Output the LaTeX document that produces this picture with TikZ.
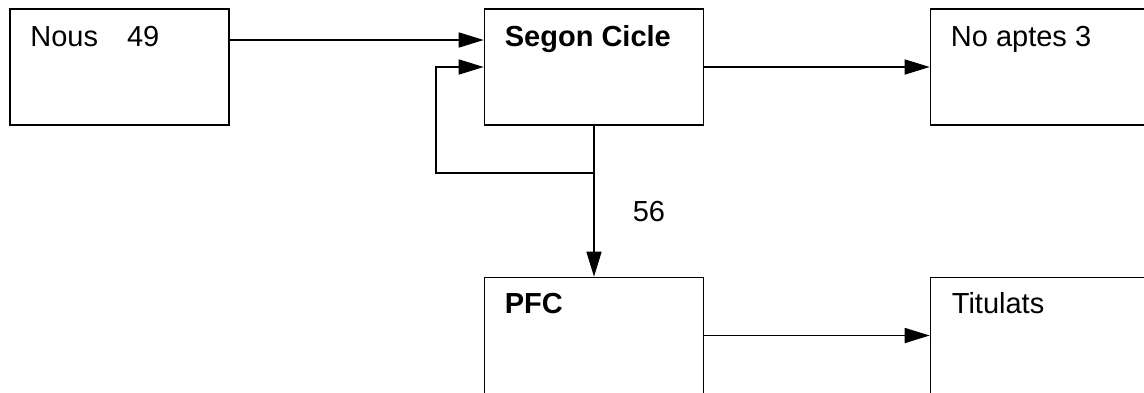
\documentclass[tikz,border=0pt]{standalone}
\usepackage{fontspec}
\setmainfont{Liberation Sans}
\usetikzlibrary{arrows.meta}
\begin{document}
\begin{tikzpicture}[x=1pt,y=-1pt,
        box/.style={draw,line width=1.6pt,minimum width=219pt,minimum height=116pt,inner sep=0},
        txt/.style={anchor=base west,inner sep=0,font=\fontsize{29}{35}\selectfont},
        flow/.style={line width=1.6pt,-{Triangle[length=25pt,width=15pt]}}]
        \useasboundingbox (0,0) rectangle (1144,392);
        %boxes
        \node[box] (nous) at (119.5,67) {};
        \node[box] (segon) at (594,67) {};
        \node[box] (noaptes) at (1040,67) {};
        \node[box] (pfc) at (594,335.5) {};
        \node[box] (titulats) at (1040,335.5) {};
        % texts
        \node[txt] at ([shift={(21,38)}]nous.north west) {Nous\quad 49};
        \node[txt] at ([shift={(21,38)}]segon.north west) {\bfseries Segon Cicle};
        \node[txt] at ([shift={(21,38)}]noaptes.north west) {No aptes 3};
        \node[txt] at ([shift={(21,37)}]pfc.north west) {\bfseries PFC};
        \node[txt] at ([shift={(22,37)}]titulats.north west) {Titulats};
        %arrows
        \draw[flow] ([yshift=27pt]nous.east) -- ([yshift=27pt]segon.west);
        \coordinate (back) at (436,173);
        \draw[flow] (segon.south) |- (back) |- (segon.west);
        \draw[flow] (segon) -- (noaptes);
        \draw[flow] (segon.south) -- (pfc.north)
            node[pos=0.57,anchor=west,xshift=38pt,inner sep=0,font=\fontsize{29}{35}\selectfont] {56};
        \draw[flow] (pfc) -- (titulats);
    \end{tikzpicture}
\end{document}
